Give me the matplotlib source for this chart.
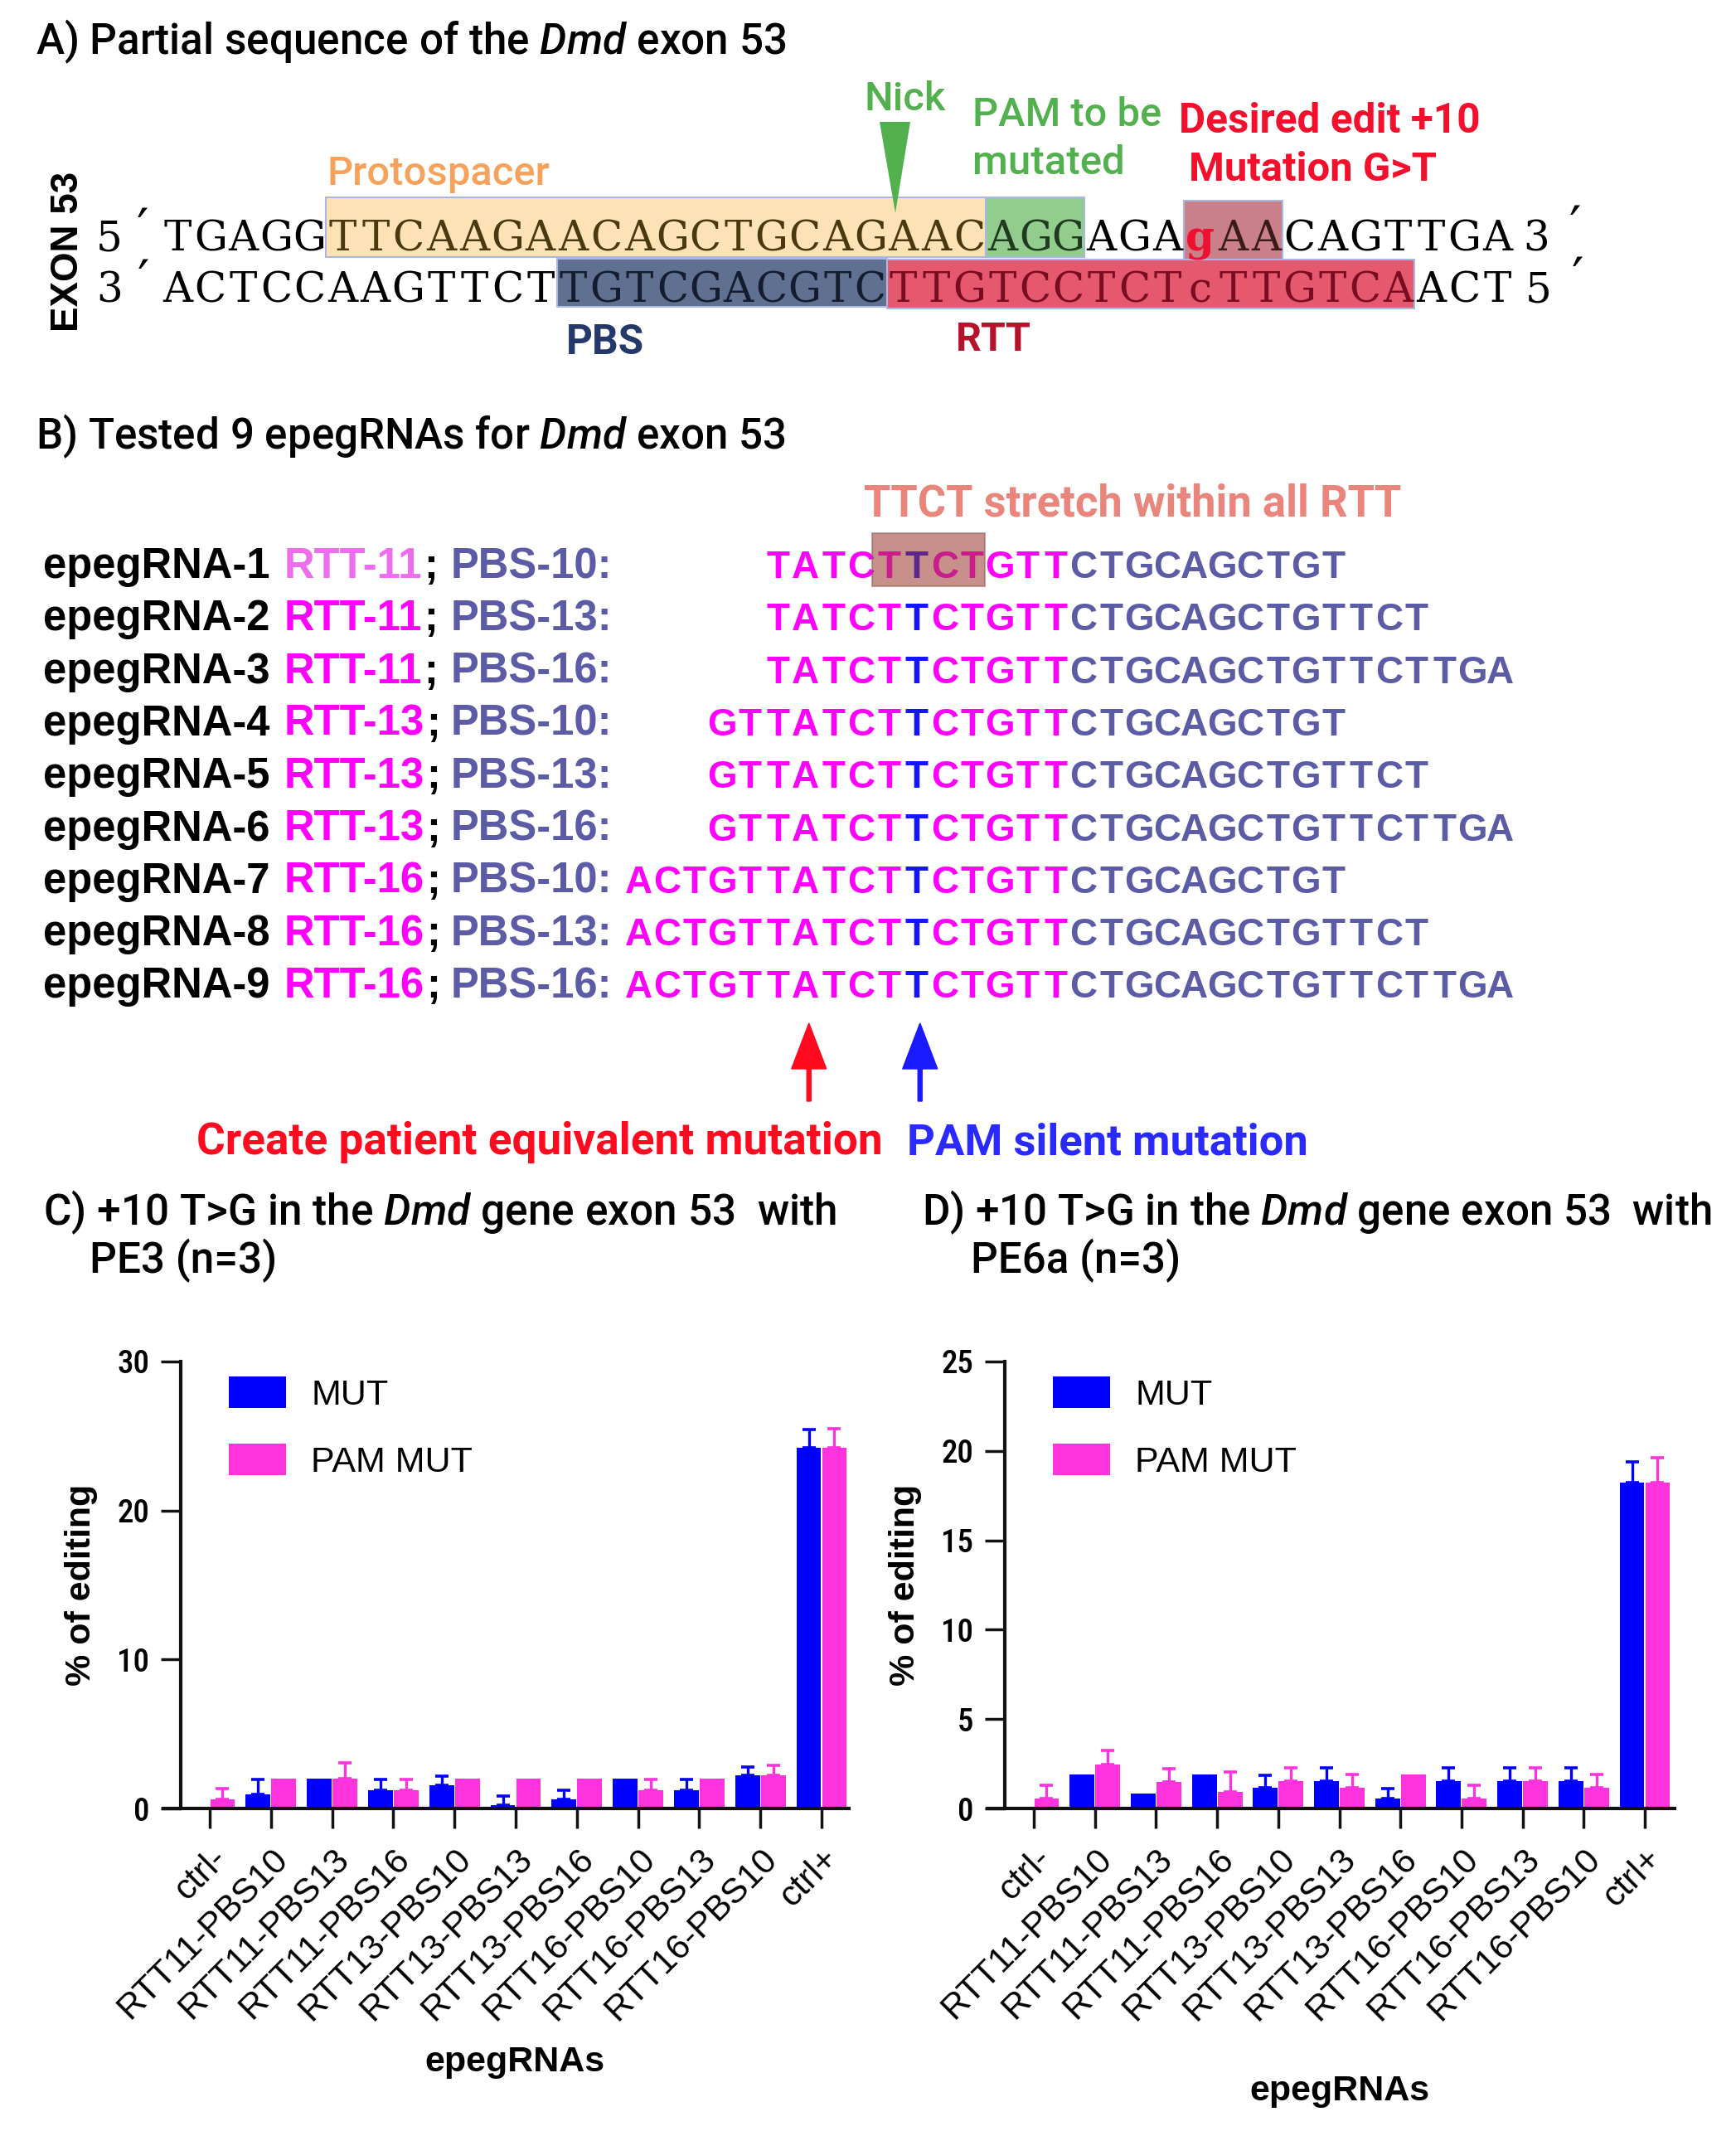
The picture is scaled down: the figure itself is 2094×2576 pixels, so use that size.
import numpy as np
import matplotlib
matplotlib.use("Agg")
import matplotlib.pyplot as plt
from matplotlib import font_manager as fm
from matplotlib.patches import Rectangle, Polygon

# ---------------- data ----------------
categories = ['ctrl-', 'RTT11-PBS10', 'RTT11-PBS13', 'RTT11-PBS16', 'RTT13-PBS10',
              'RTT13-PBS13', 'RTT13-PBS16', 'RTT16-PBS10', 'RTT16-PBS13', 'RTT16-PBS10', 'ctrl+']

mut_pe3 = [0, 0.95, 2.0, 1.25, 1.55, 0.22, 0.62, 2.0, 1.25, 2.25, 24.2]
mut_pe3_sd = [0, 1.0, 0, 0.7, 0.6, 0.6, 0.6, 0, 0.7, 0.55, 1.25]
pam_pe3 = [0.62, 2.0, 2.0, 1.25, 2.0, 2.0, 2.0, 1.2, 2.0, 2.25, 24.2]
pam_pe3_sd = [0.7, 0, 1.05, 0.7, 0, 0, 0, 0.75, 0, 0.65, 1.3]

mut_pe6 = [0, 1.9, 0.85, 1.9, 1.15, 1.55, 0.57, 1.55, 1.55, 1.55, 18.25]
mut_pe6_sd = [0, 0, 0, 0, 0.7, 0.7, 0.55, 0.7, 0.7, 0.7, 1.15]
pam_pe6 = [0.55, 2.45, 1.47, 0.95, 1.55, 1.15, 1.9, 0.55, 1.55, 1.15, 18.25]
pam_pe6_sd = [0.75, 0.8, 0.75, 1.1, 0.7, 0.75, 0, 0.75, 0.7, 0.75, 1.35]

yticks_pe3 = [0, 10, 20, 30]
yticks_pe6 = [0, 5, 10, 15, 20, 25]

top_strand = "TGAGGTTCAAGAACAGCTGCAGAACAGGAGAgAACAGTTGA"
bottom_strand = "ACTCCAAGTTCTTGTCGACGTCTTGTCCTCTcTTGTCAACT"

epeg_names = ["epegRNA-%d" % i for i in range(1, 10)]
rtt_labels = ["RTT-11"] * 3 + ["RTT-13"] * 3 + ["RTT-16"] * 3
pbs_labels = ["PBS-10:", "PBS-13:", "PBS-16:"] * 3
rtt_seqs = ["TATCTTCTGTT"] * 3 + ["GTTATCTTCTGTT"] * 3 + ["ACTGTTATCTTCTGTT"] * 3
pbs_seqs = ["CTGCAGCTGT", "CTGCAGCTGTTCT", "CTGCAGCTGTTCTTGA"] * 3

# ---------------- fonts ----------------
names = sorted({f.name for f in fm.fontManager.ttflist})
def pick(cands, default):
    for c in cands:
        if c in names:
            return c
    return default

SANS = pick(['Liberation Sans', 'Arial', 'Roboto'], 'DejaVu Sans')
COND = pick(['Roboto Condensed', 'Archivo Narrow', 'Fira Sans Condensed',
             'IBM Plex Sans Condensed'], SANS)
TITLE = pick(['Roboto'], SANS)
SERIF = pick(['DejaVu Serif', 'Liberation Serif'], 'DejaVu Serif')

plt.rcParams['font.family'] = [SANS, 'DejaVu Sans']
plt.rcParams['mathtext.fontset'] = 'custom'
plt.rcParams['mathtext.rm'] = TITLE + ':medium'
plt.rcParams['mathtext.it'] = TITLE + ':italic:medium'
plt.rcParams['mathtext.bf'] = TITLE + ':bold'

BLUE = '#0000ff'
PINK = '#ff33dd'
MAGENTA = '#ff00ff'
SLATE = '#5c5ca6'
BLUET = '#1414ff'
RED = '#f2102c'
GREEN = '#52b04e'

W, H = 2094, 2576
fig = plt.figure(figsize=(W / 100, H / 100), dpi=100)
fig.patch.set_facecolor('white')
ov = fig.add_axes([0, 0, 1, 1])
ov.set_xlim(0, W)
ov.set_ylim(H, 0)
ov.axis('off')
R = fig.canvas.get_renderer()


def T(x, y, s, w=None, h=None, size=30, **kw):
    kw.setdefault('ha', 'left')
    kw.setdefault('va', 'baseline')
    t = ov.text(x, y, s, fontsize=size, **kw)
    if w is not None or h is not None:
        bb = t.get_window_extent(renderer=R)
        f = (w / bb.width) if w is not None else (h / bb.height)
        t.set_fontsize(size * f)
    return t

# ================= Panel A =================
T(43, 65, "A) Partial sequence of the $Dmd$ exon 53", w=905, family=TITLE, weight='medium')
T(82, 303, "EXON 53", h=193, rotation=90, ha='center', va='center', weight='bold')

xA, pA = 194, 39.8
boxesA = [(5, 25, 238, 310, '#fde2b5'), (25, 28, 238, 310, '#93cd8e'),
          (31, 34, 242, 313, '#c98088'), (12, 22, 312, 370, '#5f7090'),
          (22, 38, 313, 372, '#e5586e')]
for i0, i1, y0, y1, c in boxesA:
    ov.add_patch(Rectangle((xA + i0 * pA, y0), (i1 - i0) * pA, y1 - y0,
                           fc=c, ec='#a9b8e0', lw=1.5, zorder=1))

def top_col(i):
    if 5 <= i < 25: return '#4a3810'
    if 25 <= i < 28: return '#1f3a1f'
    if i == 31: return '#ee1030'
    if 32 <= i < 34: return '#3b1a1a'
    return 'black'

def bot_col(i):
    if 12 <= i < 22: return '#141c30'
    if 22 <= i < 38: return '#7a0c22'
    return 'black'

SEQA_FS = 36
for i, ch in enumerate(top_strand):
    ov.text(xA + (i + 0.5) * pA, 302, ch, ha='center', va='baseline', family=SERIF,
            fontsize=SEQA_FS, color=top_col(i), zorder=3,
            weight='bold' if i == 31 else 'normal')
for i, ch in enumerate(bottom_strand):
    ov.text(xA + (i + 0.5) * pA, 364, ch, ha='center', va='baseline', family=SERIF,
            fontsize=SEQA_FS, color=bot_col(i), zorder=3)
for x, y, s in [(132, 302, '5'), (132, 364, '3'), (1853, 302, '3'), (1856, 364, '5')]:
    ov.text(x, y, s, ha='center', va='baseline', family=SERIF, fontsize=SEQA_FS)
# primes (drawn as text, baseline placed so the mark sits at the top of the digit)
for x, y in [(172, 297), (173, 359), (1900, 294), (1903, 356)]:
    ov.text(x, y, '\u2032', ha='center', va='baseline', family='DejaVu Sans', fontsize=46)

ov.add_patch(Polygon([(1061, 147), (1098, 147), (1080, 257)], closed=True,
                     fc=GREEN, ec='none', zorder=4))
T(395, 223, "Protospacer", w=268, color='#f5a25d', family=TITLE, weight='medium')
T(1042, 133, "Nick", w=98, color=GREEN, family=TITLE, weight='medium')
T(1173, 152, "PAM to be", w=228, color=GREEN, family=TITLE, weight='medium')
T(1173, 210, "mutated", w=183, color=GREEN, family=TITLE, weight='medium')
T(1422, 160, "Desired edit +10", w=363, color=RED, family=TITLE, weight='bold')
T(1434, 218, "Mutation G>T", w=299, color=RED, family=TITLE, weight='bold')
T(683, 427, "PBS", w=94, color='#25386a', family=TITLE, weight='bold')
T(1153, 423, "RTT", w=91, color='#b5132b', family=TITLE, weight='bold')

# ================= Panel B =================
T(43, 541, "B) Tested 9 epegRNAs for $Dmd$ exon 53", w=905, family=TITLE, weight='medium')
T(1042, 622, "TTCT stretch within all RTT", w=649, color='#ea857c', family=TITLE, weight='bold')

lab = T(52, 697, epeg_names[0], w=273, weight='bold')
LFS = lab.get_fontsize()
lab.remove()
J, pB = 1290, 33.5
SEQB_FS = 33
for r in range(9):
    yb = 697 + 63.3 * r
    ov.text(52, yb, epeg_names[r], fontsize=LFS, weight='bold', va='baseline')
    rl = ov.text(343, yb, rtt_labels[r], fontsize=LFS, weight='bold', va='baseline',
                 color='#ee6cee' if r == 0 else MAGENTA)
    xe = rl.get_window_extent(renderer=R).x1
    ov.text(xe + 2, yb, ';', fontsize=LFS, weight='bold', va='baseline')
    ov.text(544, yb, pbs_labels[r], fontsize=LFS, weight='bold', va='baseline', color=SLATE)
    rtt = rtt_seqs[r]
    start = J - len(rtt) * pB
    for k, ch in enumerate(rtt):
        c = BLUET if k == len(rtt) - 6 else MAGENTA
        ov.text(start + (k + 0.5) * pB, yb, ch, ha='center', va='baseline',
                fontsize=SEQB_FS, weight='bold', color=c, zorder=2)
    for k, ch in enumerate(pbs_seqs[r]):
        ov.text(J + (k + 0.5) * pB, yb, ch, ha='center', va='baseline',
                fontsize=SEQB_FS, weight='bold', color=SLATE, zorder=2)
    if r == 0:
        ov.add_patch(Rectangle((start + 4 * pB - 4, 643), 4 * pB + 2, 64, fc='#9b352a',
                               alpha=0.55, ec='#8a6060', lw=1.5, zorder=3))

xr = J - 9.5 * pB + 4
xb = J - 5.5 * pB + 4
for xx, cc in [(xr, '#ff0a1e'), (xb, '#1a1aff')]:
    ov.arrow(xx, 1328, 0, -94, width=5, head_width=42, head_length=55,
             length_includes_head=True, color=cc, zorder=4)
T(237, 1392, "Create patient equivalent mutation", w=827, color='#ff0a1e', family=TITLE, weight='bold')
T(1094, 1392, "PAM silent mutation", w=482, color='#2a2aff', family=TITLE, weight='bold')

# ================= Panels C & D titles =================
t = T(52, 1477, "C) +10 T>G in the $Dmd$ gene exon 53  with", w=956, family=TITLE, weight='medium')
T(108, 1535, "PE3 (n=3)", size=t.get_fontsize(), family=TITLE, weight='medium')
t = T(1112, 1477, "D) +10 T>G in the $Dmd$ gene exon 53  with", w=952, family=TITLE, weight='medium')
T(1171, 1535, "PE6a (n=3)", size=t.get_fontsize(), family=TITLE, weight='medium')

# ================= charts =================
def chart(left_px, right_px, x0tick, step, mut, mut_sd, pam, pam_sd, ymax, yticks,
          xlab_base):
    top_px, bot_px = 1642, 2181
    ax = fig.add_axes([left_px / W, (H - bot_px) / H, (right_px - left_px) / W,
                       (bot_px - top_px) / H])
    ax.set_facecolor('none')
    x = np.arange(len(categories))
    bw = 0.405
    off = 0.21
    ax.bar(x - off, mut, bw, color=BLUE, zorder=2, label='MUT')
    ax.bar(x + off, pam, bw, color=PINK, zorder=2, label='PAM MUT')
    for o, vals, sd, c in [(-off, mut, mut_sd, BLUE), (off, pam, pam_sd, PINK)]:
        vals = np.asarray(vals, float)
        sd = np.asarray(sd, float)
        m = sd > 0
        ax.errorbar((x + o)[m], vals[m], yerr=[np.zeros(m.sum()), sd[m]], fmt='none',
                    ecolor=c, elinewidth=2.4, capsize=6, capthick=2.6, zorder=3)
    xl = -(x0tick - left_px) / step
    xr_ = (right_px - x0tick) / step
    ax.set_xlim(xl, xr_)
    ax.set_ylim(0, ymax)
    for s in ['top', 'right']:
        ax.spines[s].set_visible(False)
    for s in ['left', 'bottom']:
        ax.spines[s].set_linewidth(3.0)
        ax.spines[s].set_color('#111111')
    ax.spines['bottom'].set_bounds(xl - 0.29, xr_)
    ax.set_yticks(yticks)
    ax.set_xticks(x)
    ax.set_xticklabels(categories, rotation=45, ha='right', rotation_mode='anchor',
                       fontsize=30.5, family=SANS)
    ax.tick_params(axis='both', direction='out', length=17, width=2.5, color='#111111')
    ax.tick_params(axis='x', pad=12)
    ax.tick_params(axis='y', pad=10, labelsize=28)
    for lbl in ax.get_yticklabels():
        lbl.set_family(COND)
        lbl.set_weight('medium')
    ax.set_ylabel('% of editing', fontsize=31, weight='bold')
    ax.yaxis.set_label_coords(-0.124, 0.5)
    ax.set_xlabel('epegRNAs', fontsize=31, weight='bold')
    ax.xaxis.label.set_va('baseline')
    ax.xaxis.set_label_coords(0.5, -(xlab_base - bot_px) / (bot_px - top_px))
    ax.legend(loc='upper left', bbox_to_anchor=(58 / (right_px - left_px), 0.966),
              frameon=False, fontsize=31, handlelength=1.6, handleheight=0.98,
              labelspacing=0.88, handletextpad=0.7, borderpad=0, borderaxespad=0)
    return ax

axC = chart(218, 1024, 253, 73.8, mut_pe3, mut_pe3_sd, pam_pe3, pam_pe3_sd, 30, yticks_pe3, 2498)
axD = chart(1212, 2020, 1247, 73.7, mut_pe6, mut_pe6_sd, pam_pe6, pam_pe6_sd, 25, yticks_pe6, 2533)

fig.savefig('out.png', dpi=100, facecolor='white')
